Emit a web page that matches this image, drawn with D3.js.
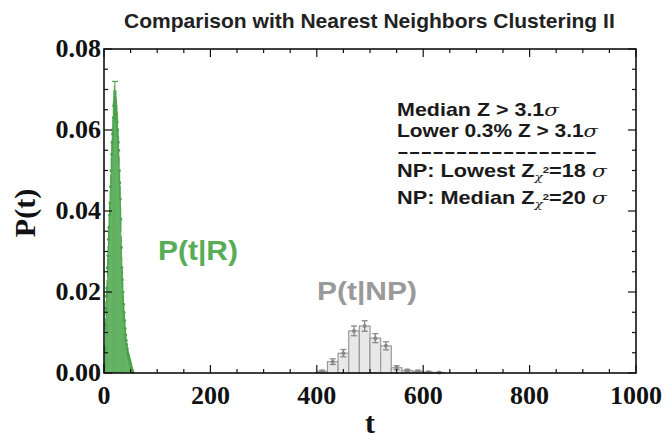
<!DOCTYPE html>
<html><head><meta charset="utf-8">
<script src="https://cdn.jsdelivr.net/npm/d3@7"></script>
<style>body{margin:0;background:#fff}svg{display:block}</style>
</head><body>
<svg id="c" width="664" height="438"></svg>
<script>
// ---- data ----
const rT = d3.range(0, 55); // bin starts of P(t|R), width 1
const rP = [0.002,0.006,0.012,0.016,0.019,0.021,0.026,0.029,0.033,0.036,
            0.039,0.042,0.046,0.050,0.054,0.057,0.059,0.063,0.066,0.067,
            0.068,0.066,0.066,0.064,0.062,0.060,0.057,0.055,0.050,0.047,
            0.043,0.038,0.031,0.026,0.023,0.020,0.017,0.015,0.013,0.011,
            0.0095,0.008,0.007,0.006,0.005,0.0045,0.004,0.0035,0.003,0.0025,
            0.002,0.0014,0.0009,0.0005,0.0002];
const rErr = [0.0006,0.001,0.0015,0.0018,0.002,0.002,0.0022,0.0024,0.0025,0.0026,
              0.0028,0.003,0.003,0.0032,0.0034,0.0035,0.0036,0.0038,0.0038,0.004,
              0.004,0.0038,0.0038,0.0037,0.0037,0.0036,0.0035,0.0035,0.0034,0.0033,
              0.0032,0.003,0.0028,0.0026,0.0025,0.0024,0.0022,0.002,0.0019,0.0018,
              0.0016,0.0015,0.0014,0.0013,0.0012,0.0011,0.001,0.0009,0.0008,0.0008,
              0.0006,0.0005,0.0004,0.0003,0.0002];
const npT = [400,420,440,460,480,500,520,540,560,580,600,620]; // bin starts, width 20
const npP = [0.0004,0.0028,0.0049,0.0104,0.0116,0.0086,0.0067,0.0013,0.0006,0.0004,0.0002,0.0001];
const npErr = [0.0003,0.0007,0.0009,0.0012,0.0013,0.0011,0.001,0.0005,0.0003,0.0003,0.0002,0.0001];
const xTicks = [0,200,400,600,800,1000];
const yTicks = [0.00,0.02,0.04,0.06,0.08];
const titleText = "Comparison with Nearest Neighbors Clustering II";

// ---- layout ----
const svg = d3.select("#c");
const L=104, R=636, T=49, B=373;
const x = d3.scaleLinear().domain([0,1000]).range([L,R]);
const y = d3.scaleLinear().domain([0,0.08]).range([B,T]);

function fitX(sel, x0, x1){
  const n = sel.node().getComputedTextLength();
  const k = (x1-x0)/n;
  const yy = +sel.attr("y");
  sel.attr("x",0).attr("y",0).attr("transform",`translate(${x0},${yy}) scale(${k},1)`);
}

// title
const tt = svg.append("text").attr("y",28).attr("font-family","Liberation Sans, Arial, sans-serif")
  .attr("font-weight","bold").attr("font-size",20).attr("fill","#222").text(titleText);
fitX(tt,124,615);

// gray NP histogram
const g = svg.append("g");
g.selectAll("rect.np").data(npT).join("rect").attr("class","np")
  .attr("x",d=>x(d)).attr("width",d=>x(d+20)-x(d))
  .attr("y",(d,i)=>y(npP[i])).attr("height",(d,i)=>B-y(npP[i]))
  .attr("fill","#e8e8e8").attr("stroke","#9a9a9a").attr("stroke-width",1.2);
const npE = g.selectAll("g.npe").data(npT).join("g").attr("class","npe");
npE.append("line").attr("x1",d=>x(d+10)).attr("x2",d=>x(d+10))
  .attr("y1",(d,i)=>y(npP[i]+npErr[i])).attr("y2",(d,i)=>y(Math.max(0,npP[i]-npErr[i])))
  .attr("stroke","#888").attr("stroke-width",1.3);
npE.append("line").attr("x1",d=>x(d+10)-3).attr("x2",d=>x(d+10)+3)
  .attr("y1",(d,i)=>y(npP[i]+npErr[i])).attr("y2",(d,i)=>y(npP[i]+npErr[i]))
  .attr("stroke","#888").attr("stroke-width",1.3);
npE.append("line").attr("x1",d=>x(d+10)-3).attr("x2",d=>x(d+10)+3)
  .attr("y1",(d,i)=>y(Math.max(0,npP[i]-npErr[i]))).attr("y2",(d,i)=>y(Math.max(0,npP[i]-npErr[i])))
  .attr("stroke","#888").attr("stroke-width",1.3);
npE.append("circle").attr("cx",d=>x(d+10)).attr("cy",(d,i)=>y(npP[i])).attr("r",2).attr("fill","#888");

// green R histogram
const gr = svg.append("g");
gr.selectAll("rect").data(rT).join("rect")
  .attr("x",d=>x(d)).attr("width",d=>x(d+1)-x(d)+0.3)
  .attr("y",(d,i)=>y(rP[i])).attr("height",(d,i)=>B-y(rP[i]))
  .attr("fill","#57ac57");
gr.selectAll("line").data(rT).join("line")
  .attr("x1",d=>x(d+0.5)).attr("x2",d=>x(d+0.5))
  .attr("y1",(d,i)=>y(rP[i]+rErr[i])).attr("y2",(d,i)=>y(Math.max(0,rP[i]-rErr[i])))
  .attr("stroke","#4aa34a").attr("stroke-width",1);
gr.selectAll("circle").data(rT).join("circle")
  .attr("cx",d=>x(d+0.5)).attr("cy",(d,i)=>y(rP[i])).attr("r",1.6).attr("fill","#4aa34a");
// cap on peak error
const pk = rP.indexOf(d3.max(rP));
gr.append("line").attr("x1",x(rT[pk]+0.5)-3).attr("x2",x(rT[pk]+0.5)+3)
  .attr("y1",y(rP[pk]+rErr[pk])).attr("y2",y(rP[pk]+rErr[pk])).attr("stroke","#4aa34a").attr("stroke-width",1.2);

// frame & ticks
const fr = svg.append("g").attr("stroke","#111");
fr.append("rect").attr("x",L).attr("y",T).attr("width",R-L).attr("height",B-T)
  .attr("fill","none").attr("stroke-width",1.6);
const xMinor = d3.range(0,1001,50), yMinor = d3.range(0,0.0801,0.005);
xMinor.forEach(v=>{
  const major = Math.abs(v%200)<1e-9; const len = major?8:4;
  fr.append("line").attr("x1",x(v)).attr("x2",x(v)).attr("y1",B).attr("y2",B-len).attr("stroke-width",1.2);
  fr.append("line").attr("x1",x(v)).attr("x2",x(v)).attr("y1",T).attr("y2",T+len).attr("stroke-width",1.2);
});
yMinor.forEach(v=>{
  const major = Math.abs(Math.round(v*1000)%20)===0; const len = major?8:4;
  fr.append("line").attr("x1",L).attr("x2",L+len).attr("y1",y(v)).attr("y2",y(v)).attr("stroke-width",1.2);
  fr.append("line").attr("x1",R).attr("x2",R-len).attr("y1",y(v)).attr("y2",y(v)).attr("stroke-width",1.2);
});

// tick labels
const serif = "Liberation Serif, Times New Roman, serif";
svg.append("g").selectAll("text").data(xTicks).join("text")
  .attr("x",d=>x(d)).attr("y",404).attr("text-anchor","middle")
  .attr("font-family",serif).attr("font-weight","bold").attr("font-size",26).attr("fill","#111")
  .text(d=>d);
svg.append("g").selectAll("text").data(yTicks).join("text")
  .attr("x",L-3).attr("y",d=>y(d)+8).attr("text-anchor","end")
  .attr("font-family",serif).attr("font-weight","bold").attr("font-size",26).attr("fill","#111")
  .text(d=>d3.format(".2f")(d));
svg.append("text").attr("x",370).attr("y",433).attr("text-anchor","middle")
  .attr("font-family",serif).attr("font-weight","bold").attr("font-size",30).attr("fill","#111").text("t");
svg.append("text").attr("transform","translate(35,213) rotate(-90)").attr("text-anchor","middle")
  .attr("font-family",serif).attr("font-weight","bold").attr("font-size",30).attr("fill","#111").text("P(t)");

// series labels
const sans = "Liberation Sans, Arial, sans-serif";
const lr = svg.append("text").attr("y",260).attr("font-family",sans).attr("font-weight","bold")
  .attr("font-size",27).attr("fill","#57ac57").text("P(t|R)");
fitX(lr,158,238);
const ln = svg.append("text").attr("y",300).attr("font-family",sans).attr("font-weight","bold")
  .attr("font-size",25).attr("fill","#9a9a9a").text("P(t|NP)");
fitX(ln,317,417);

// legend text
function sigmaLine(parts, yy, x1){
  const t = svg.append("text").attr("y",yy).attr("font-family",sans).attr("font-weight","bold")
    .attr("font-size",17.5).attr("fill","#1a1a1a");
  parts.forEach(p=>{
    const ts = t.append("tspan").text(p.t);
    if(p.it) ts.attr("font-style","italic").attr("font-weight","normal").attr("font-family","DejaVu Serif, serif");
    if(p.dy) ts.attr("dy",p.dy);
    if(p.fs) ts.attr("font-size",p.fs);
  });
  fitX(t,397,x1);
}
sigmaLine([{t:"Median Z > 3.1"},{t:"σ",it:1}],116,559);
sigmaLine([{t:"Lower 0.3% Z > 3.1"},{t:"σ",it:1}],137,598);
const dash = svg.append("text").attr("y",157).attr("font-family",sans).attr("font-weight","bold")
  .attr("font-size",17).attr("fill","#1a1a1a").text("-----------------");
fitX(dash,397,597);
sigmaLine([{t:"NP: Lowest Z"},{t:"χ",it:1,dy:4,fs:11},{t:"2",dy:-8,fs:9},{t:"=18 ",dy:4},{t:"σ",it:1}],177,607);
sigmaLine([{t:"NP: Median Z"},{t:"χ",it:1,dy:4,fs:11},{t:"2",dy:-8,fs:9},{t:"=20 ",dy:4},{t:"σ",it:1}],204,607);
</script>
</body></html>
